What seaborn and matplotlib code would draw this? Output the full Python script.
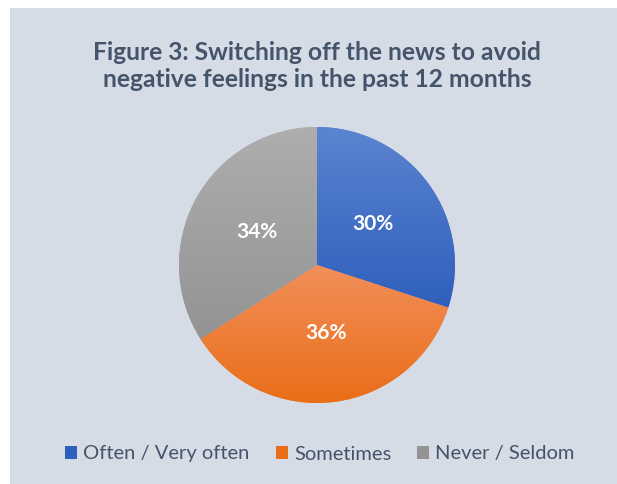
import matplotlib
matplotlib.use("Agg")
import matplotlib.pyplot as plt
from matplotlib.patches import Rectangle
from matplotlib.colors import LinearSegmentedColormap
import numpy as np
import seaborn as sns

sns.set_style("white")
plt.rcParams["font.family"] = ["Lato", "DejaVu Sans"]

title = "Figure 3: Switching off the news to avoid\nnegative feelings in the past 12 months"
categories = ["Often / Very often", "Sometimes", "Never / Seldom"]
shares = [30, 36, 34]
# top and bottom shade of each slice's vertical gradient
top_colors = ["#5B84D0", "#F28F5A", "#AEAEAE"]
bottom_colors = ["#2F5FBD", "#E96D17", "#939393"]

W, H = 617, 484
fig = plt.figure(figsize=(W / 100, H / 100), dpi=100)
fig.patch.set_facecolor("white")
fig.patches.append(Rectangle((10 / W, 0), 1, (H - 8) / H, transform=fig.transFigure,
                             facecolor="#D6DCE5", edgecolor="none", zorder=-10))

cx, cy, r = 317, 265, 138
ax = fig.add_axes([(cx - r) / W, (H - cy - r) / H, 2 * r / W, 2 * r / H])
ax.set_facecolor("none")
ax.set_zorder(2)

wedges, texts, autotexts = ax.pie(
    shares, colors=top_colors, startangle=90, counterclock=False,
    autopct=lambda p: f"{p:.0f}%", pctdistance=0.5, radius=1,
    wedgeprops=dict(linewidth=0, edgecolor="none"),
    textprops=dict(color="white", fontsize=15, fontweight="bold"),
)
ax.axis("off")

grad = np.linspace(0, 1, 256).reshape(-1, 1)
for w, c0, c1 in zip(wedges, top_colors, bottom_colors):
    verts = w.get_path().vertices
    y0, y1 = verts[:, 1].min(), verts[:, 1].max()
    x0, x1 = verts[:, 0].min(), verts[:, 0].max()
    cmap = LinearSegmentedColormap.from_list("g", [c0, c1])
    im = ax.imshow(grad, cmap=cmap, extent=[x0, x1, y0, y1], origin="upper",
                   aspect="auto", zorder=1.5, interpolation="bilinear")
    im.set_clip_path(w)
for t in autotexts:
    t.set_zorder(3)
ax.set_xlim(-1, 1)
ax.set_ylim(-1, 1)
ax.set_aspect("equal")

fig.text(cx / W, 1 - 66 / H, title, ha="center", va="center", fontsize=17.7,
         fontweight="bold", color="#44546A", linespacing=1.25)

handles = [Rectangle((0, 0), 1, 1, facecolor=c1, edgecolor="none") for c1 in bottom_colors]
leg = fig.legend(handles, categories, loc="center", bbox_to_anchor=(320 / W, 1 - 454 / H),
                 ncol=3, frameon=False, fontsize=14.5, handlelength=0.6, handleheight=0.6,
                 handletextpad=0.3, columnspacing=1.3, labelcolor="#44546A")

fig.savefig("out.png", dpi=100, facecolor=fig.get_facecolor())
